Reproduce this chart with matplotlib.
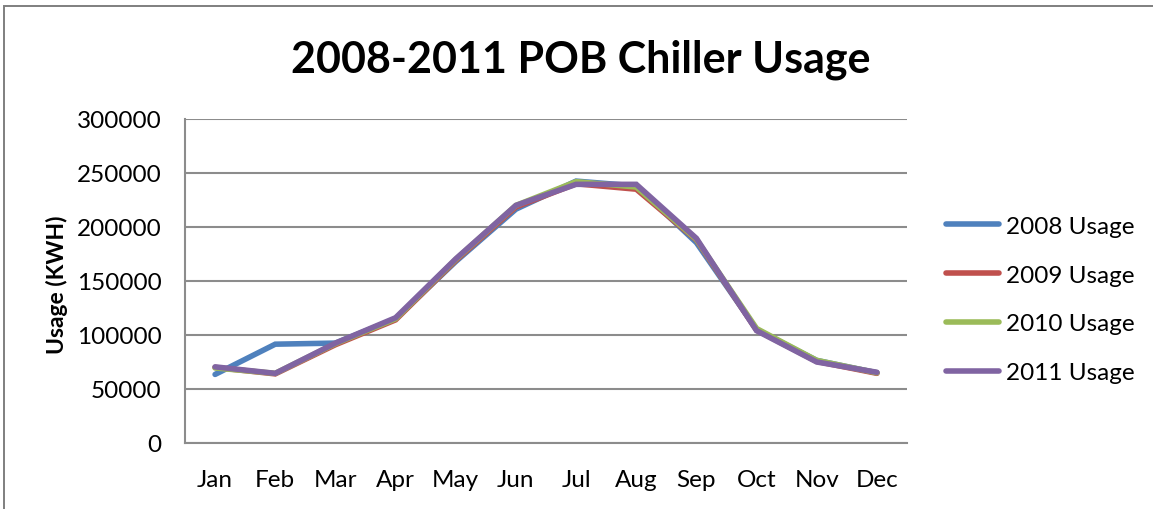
import matplotlib.pyplot as plt
from matplotlib.patches import Rectangle

plt.rcParams['font.family'] = ['Lato', 'DejaVu Sans']

months = ['Jan', 'Feb', 'Mar', 'Apr', 'May', 'Jun', 'Jul', 'Aug', 'Sep', 'Oct', 'Nov', 'Dec']
usage_2008 = [63500, 91500, 92500, 115000, 168000, 216500, 242500, 238000, 185500, 105000, 76500, 65000]
usage_2009 = [70000, 64000, 91000, 114000, 169000, 218500, 240000, 235000, 188000, 104500, 75500, 64500]
usage_2010 = [69500, 64500, 92000, 115000, 170000, 220000, 242000, 237000, 188500, 106000, 76500, 65000]
usage_2011 = [70500, 64500, 92500, 116000, 170500, 220000, 239500, 239500, 189500, 104000, 75000, 65500]
series_labels = ['2008 Usage', '2009 Usage', '2010 Usage', '2011 Usage']
yticks = [0, 50000, 100000, 150000, 200000, 250000, 300000]

colors = ['#4F81BD', '#C0504D', '#9BBB59', '#8064A2']
grid_gray = '#8C8C8C'

fig = plt.figure(figsize=(11.53, 5.10), dpi=100)
ax = fig.add_axes([185/1153, 1-444/510, 722/1153, 324/510])

# chart frame (only top and left edges fall inside the image)
fig.patches.append(Rectangle((4/1153, -0.1), 1.2, 1-7/510+0.1, transform=fig.transFigure,
                             fill=False, edgecolor='#7F7F7F', linewidth=1.4))

x = range(len(months))
for vals, lab, col in zip([usage_2008, usage_2009, usage_2010, usage_2011], series_labels, colors):
    ax.plot(x, vals, color=col, linewidth=4, label=lab, solid_capstyle='round',
            solid_joinstyle='miter')

ax.set_xlim(-0.5, len(months) - 0.5)
ax.set_ylim(0, 300000)
ax.set_yticks(yticks)
ax.set_yticklabels([str(v) for v in yticks])
ax.set_xticks(list(x))
ax.set_xticklabels(months)
ax.tick_params(axis='both', length=0, labelsize=17.5, colors='black')
ax.tick_params(axis='y', pad=17)
ax.tick_params(axis='x', pad=19)

ax.yaxis.grid(True, color=grid_gray, linewidth=1.5)
ax.set_axisbelow(True)
for side in ['top', 'right']:
    ax.spines[side].set_visible(False)
for side in ['left', 'bottom']:
    ax.spines[side].set_color(grid_gray)
    ax.spines[side].set_linewidth(1.5)

fig.text(581/1153, 1-60/510, '2008-2011 POB Chiller Usage', fontsize=31, fontweight='bold',
         ha='center', va='center')
fig.text(57/1153, 1-285/510, 'Usage (KWH)', fontsize=16.5, fontweight='bold',
         rotation=90, ha='center', va='center')

fig.legend(loc='center left', bbox_to_anchor=(946/1153, 1-300.5/510), frameon=False,
           fontsize=17.5, handlelength=2.2, handletextpad=0.25, labelspacing=1.15,
           borderpad=0, borderaxespad=0)

fig.savefig('out.png', dpi=100, facecolor='white')
